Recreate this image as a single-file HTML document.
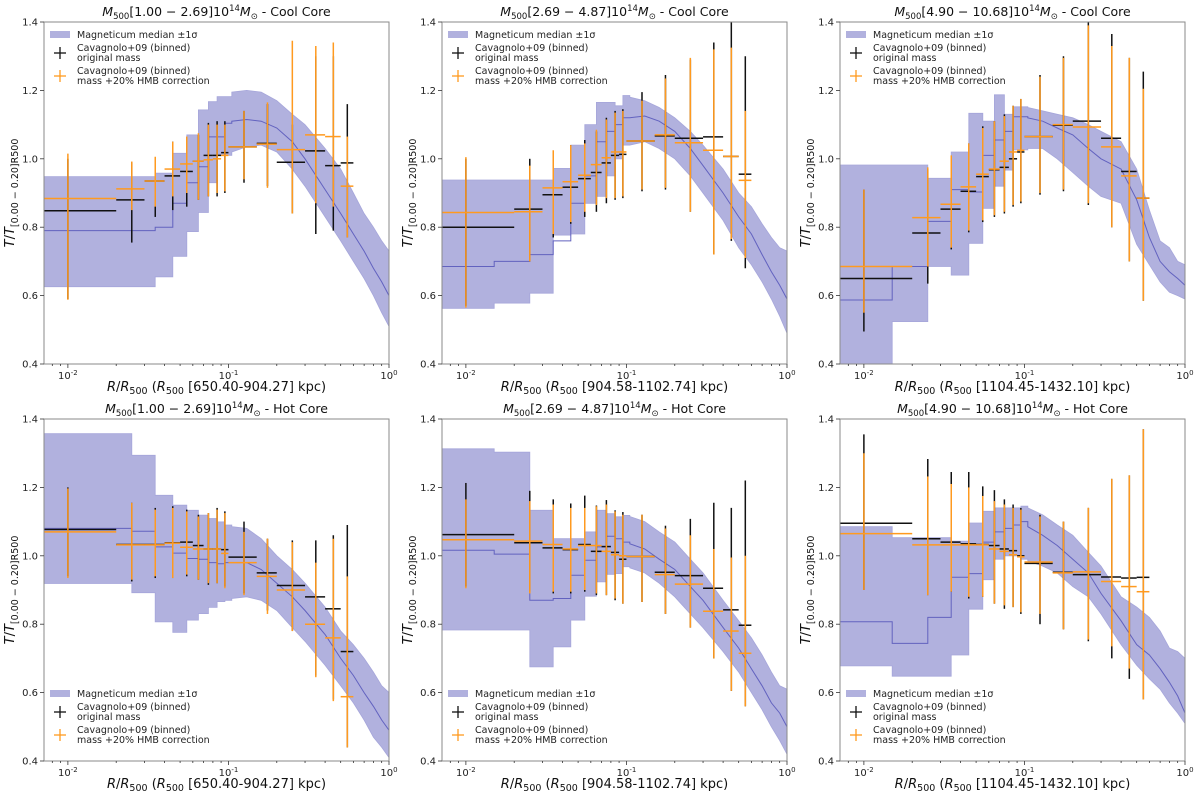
<!DOCTYPE html>
<html><head><meta charset="utf-8"><style>
body{margin:0;background:#fff}
svg{display:block;font-family:"DejaVu Sans","Liberation Sans",sans-serif}
</style></head><body>
<svg id="fig" width="1200" height="800" viewBox="0 0 1200 800" xmlns="http://www.w3.org/2000/svg"></svg>
<script>
// ---- shared bin definitions ----
const binLo=[0.0071,0.02,0.03,0.04,0.05,0.06,0.07,0.08,0.09,0.10,0.15,0.20,0.30,0.40,0.50];
const binHi=[0.02,0.03,0.04,0.05,0.06,0.07,0.08,0.09,0.10,0.15,0.20,0.30,0.40,0.50,0.60];
const binMid=[0.01,0.025,0.035,0.045,0.055,0.065,0.075,0.085,0.095,0.125,0.175,0.25,0.35,0.45,0.55];
// band grid: first 10 entries are step segments [x_i,x_{i+1}], rest are points joined linearly
const bandX=[0.0071,0.015,0.025,0.035,0.045,0.055,0.065,0.075,0.085,0.095,0.105,0.13,0.16,0.2,0.25,0.3,0.4,0.5,0.6,0.7,0.8,0.9,1.0];
const yTicks=[0.4,0.6,0.8,1.0,1.2,1.4];
const titles=["1.00 − 2.69","2.69 − 4.87","4.90 − 10.68","1.00 − 2.69","2.69 − 4.87","4.90 − 10.68"];
const cores=["Cool Core","Cool Core","Cool Core","Hot Core","Hot Core","Hot Core"];
const r500=["650.40-904.27","904.58-1102.74","1104.45-1432.10","650.40-904.27","904.58-1102.74","1104.45-1432.10"];

// ---- panel 1 ----
const p1Lo=[.626,.626,.626,.655,.715,.787,.843,.93,1.01,1.01,1.02,1.035,1.04,1.02,.97,.92,.83,.76,.70,.65,.60,.55,.51];
const p1Med=[.79,.79,.79,.80,.87,.93,.977,1.064,1.064,1.104,1.11,1.115,1.11,1.09,1.05,1.0,.91,.84,.78,.73,.68,.64,.60];
const p1Hi=[.948,.948,.948,.958,1.016,1.07,1.143,1.167,1.182,1.182,1.195,1.2,1.195,1.17,1.13,1.1,1.03,.97,.90,.84,.80,.76,.73];
const p1BY=[.848,.88,.935,.95,.963,.993,1.01,1.01,1.018,1.035,1.045,.99,1.023,.98,.988];
const p1BLo=[.59,.755,.83,.85,.86,.88,.89,.89,.90,.93,.92,.84,.78,.79,.77];
const p1BHi=[1.0,.99,1.0,1.05,1.06,1.07,1.105,1.11,1.11,1.14,1.16,1.1,1.3,1.3,1.16];
const p1OY=[.884,.912,.935,.97,.985,.993,.997,1.0,1.01,1.035,1.043,1.027,1.07,1.065,.92];
const p1OLo=[.588,.85,.86,.89,.90,.88,.89,.90,.905,.94,.915,.84,.87,.86,.77];
const p1OHi=[1.015,.992,1.006,1.05,1.065,1.075,1.1,1.1,1.1,1.14,1.165,1.345,1.33,1.34,1.065];
// ---- panel 2 ----
const p2Lo=[.563,.578,.607,.777,.78,.87,.89,.95,1.0,1.04,1.04,1.05,1.03,1.0,.95,.90,.82,.74,.69,.64,.59,.54,.49];
const p2Med=[.685,.70,.72,.76,.87,.95,1.05,1.08,1.10,1.12,1.12,1.125,1.11,1.08,1.03,.98,.90,.83,.78,.72,.67,.63,.59];
const p2Hi=[.938,.938,.938,.972,1.04,1.10,1.165,1.165,1.155,1.185,1.18,1.17,1.15,1.12,1.08,1.04,.97,.90,.86,.81,.77,.74,.73];
const p2BY=[.80,.853,.895,.917,.942,.96,.988,1.01,1.013,1.052,1.067,1.06,1.064,1.007,.955];
const p2BLo=[.57,.70,.77,.81,.83,.845,.87,.88,.885,.905,.91,.845,.72,.76,.68];
const p2BHi=[1.0,1.0,1.02,1.04,1.055,1.08,1.12,1.14,1.145,1.195,1.245,1.29,1.34,1.4,1.3];
const p2OY=[.843,.845,.915,.933,.952,.983,1.003,1.02,1.02,1.052,1.07,1.047,1.025,1.007,.937];
const p2OLo=[.565,.70,.78,.815,.845,.865,.885,.885,.89,.91,.915,.845,.72,.765,.71];
const p2OHi=[1.005,.98,1.025,1.04,1.045,1.085,1.115,1.135,1.14,1.17,1.235,1.295,1.32,1.325,1.14];
// ---- panel 3 ----
const p3Lo=[.35,.524,.685,.66,.753,.855,.92,.967,1.026,1.026,1.03,1.03,1.0,.96,.92,.89,.87,.75,.69,.64,.61,.60,.59];
const p3Med=[.587,.685,.817,.91,.903,1.01,1.055,1.08,1.123,1.123,1.12,1.11,1.09,1.07,1.03,1.0,.97,.88,.77,.70,.67,.65,.63];
const p3Hi=[.982,.982,.943,1.02,1.133,1.11,1.187,1.13,1.152,1.152,1.15,1.14,1.13,1.12,1.10,1.08,1.05,.97,.85,.76,.74,.70,.69];
const p3BY=[.65,.783,.853,.905,.948,.968,.975,1.0,1.02,1.065,1.098,1.11,1.06,.963,.885];
const p3BLo=[.495,.635,.735,.785,.815,.83,.84,.86,.87,.895,.905,.865,.80,.70,.585];
const p3BHi=[.91,.97,1.0,1.045,1.095,1.11,1.13,1.155,1.175,1.245,1.3,1.4,1.365,1.295,1.255];
const p3OY=[.685,.828,.867,.918,.955,.97,.993,1.02,1.025,1.065,1.1,1.093,1.035,.95,.885];
const p3OLo=[.55,.685,.74,.79,.82,.835,.845,.865,.875,.90,.91,.87,.80,.70,.585];
const p3OHi=[.91,.975,1.01,1.045,1.09,1.11,1.125,1.155,1.175,1.24,1.295,1.39,1.33,1.295,1.205];
// ---- panel 4 ----
const p4Lo=[.919,.919,.892,.807,.776,.812,.831,.849,.866,.87,.875,.88,.87,.84,.79,.75,.68,.62,.57,.52,.47,.44,.41];
const p4Med=[1.08,1.08,1.072,1.026,1.008,.992,.99,.98,.977,.98,.98,.98,.96,.92,.88,.84,.77,.70,.65,.60,.56,.52,.49];
const p4Hi=[1.357,1.357,1.294,1.177,1.148,1.133,1.119,1.109,1.099,1.09,1.085,1.08,1.05,1.0,.96,.92,.85,.78,.74,.70,.66,.62,.60];
const p4BY=[1.077,1.033,1.033,1.038,1.04,1.03,1.02,1.02,1.018,.996,.95,.913,.88,.845,.72];
const p4BLo=[.94,.925,.935,.935,.94,.93,.915,.92,.91,.89,.84,.78,.65,.58,.44];
const p4BHi=[1.2,1.155,1.14,1.145,1.135,1.12,1.125,1.14,1.13,1.10,1.05,1.045,1.045,1.06,1.09];
const p4OY=[1.07,1.032,1.032,1.037,1.025,1.02,1.02,1.02,1.007,.98,.94,.90,.80,.76,.588];
const p4OLo=[.935,.93,.94,.935,.945,.93,.92,.92,.905,.885,.83,.78,.645,.575,.44];
const p4OHi=[1.197,1.155,1.135,1.14,1.13,1.115,1.125,1.135,1.125,1.07,1.05,1.04,.98,1.05,.94];
// ---- panel 5 ----
const p5Lo=[.783,.783,.675,.734,.812,.882,.924,.946,.948,.968,.965,.95,.92,.88,.83,.79,.72,.66,.60,.55,.50,.46,.42];
const p5Med=[1.016,1.005,.87,.875,.943,.987,1.026,1.057,1.05,1.04,1.035,1.02,.99,.96,.91,.87,.79,.73,.67,.62,.57,.54,.50];
const p5Hi=[1.313,1.303,1.133,1.05,1.05,1.07,1.133,1.123,1.114,1.118,1.115,1.10,1.07,1.04,.99,.95,.87,.81,.76,.71,.66,.62,.61];
const p5BY=[1.062,1.038,1.023,1.018,1.033,1.013,1.027,1.01,.99,.998,.952,.942,.905,.842,.797];
const p5BLo=[.91,.895,.89,.89,.895,.885,.885,.87,.86,.865,.83,.79,.70,.605,.56];
const p5BHi=[1.213,1.19,1.165,1.153,1.176,1.147,1.163,1.133,1.128,1.12,1.088,1.108,1.155,1.14,1.22];
const p5OY=[1.047,1.043,1.033,1.02,1.03,1.03,1.013,1.003,1.0,.998,.945,.917,.838,.78,.715];
const p5OLo=[.905,.89,.895,.895,.90,.89,.885,.875,.86,.865,.83,.79,.70,.605,.56];
const p5OHi=[1.165,1.16,1.15,1.14,1.14,1.145,1.15,1.13,1.12,1.12,1.08,1.06,1.02,.995,1.0];
// ---- panel 6 ----
const p6Lo=[.678,.648,.648,.71,.844,.93,.99,1.0,1.0,.99,.985,.97,.95,.91,.88,.83,.74,.68,.64,.61,.57,.54,.51];
const p6Med=[.807,.744,.82,.937,.948,1.04,1.07,1.08,1.09,1.10,1.085,1.06,1.03,.99,.95,.89,.81,.74,.71,.67,.63,.59,.54];
const p6Hi=[1.085,1.053,1.053,1.043,1.096,1.13,1.14,1.14,1.14,1.145,1.14,1.12,1.09,1.06,1.01,.97,.88,.85,.82,.78,.73,.72,.70];
const p6BY=[1.095,1.05,1.04,1.035,1.033,1.03,1.02,1.015,1.0,.978,.952,.945,.938,.935,.937];
const p6BLo=[.90,.885,.895,.875,.88,.86,.845,.85,.83,.80,.785,.75,.70,.64,.58];
const p6BHi=[1.355,1.283,1.245,1.245,1.203,1.192,1.165,1.15,1.14,1.12,1.10,1.14,1.225,1.235,1.37];
const p6OY=[1.065,1.032,1.032,1.032,1.032,1.02,1.013,1.003,.997,.982,.95,.953,.925,.91,.895];
const p6OLo=[.90,.885,.895,.88,.88,.86,.855,.85,.835,.83,.785,.755,.735,.67,.58];
const p6OHi=[1.30,1.232,1.21,1.20,1.175,1.16,1.15,1.14,1.135,1.115,1.10,1.14,1.225,1.235,1.37];

const panels=[
 {lo:p1Lo,med:p1Med,hi:p1Hi,by:p1BY,bl:p1BLo,bh:p1BHi,oy:p1OY,ol:p1OLo,oh:p1OHi},
 {lo:p2Lo,med:p2Med,hi:p2Hi,by:p2BY,bl:p2BLo,bh:p2BHi,oy:p2OY,ol:p2OLo,oh:p2OHi},
 {lo:p3Lo,med:p3Med,hi:p3Hi,by:p3BY,bl:p3BLo,bh:p3BHi,oy:p3OY,ol:p3OLo,oh:p3OHi},
 {lo:p4Lo,med:p4Med,hi:p4Hi,by:p4BY,bl:p4BLo,bh:p4BHi,oy:p4OY,ol:p4OLo,oh:p4OHi},
 {lo:p5Lo,med:p5Med,hi:p5Hi,by:p5BY,bl:p5BLo,bh:p5BHi,oy:p5OY,ol:p5OLo,oh:p5OHi},
 {lo:p6Lo,med:p6Med,hi:p6Hi,by:p6BY,bl:p6BLo,bh:p6BHi,oy:p6OY,ol:p6OLo,oh:p6OHi}
];

const NS="http://www.w3.org/2000/svg";
const svg=document.getElementById('fig');
function mk(tag,attrs,parent){const e=document.createElementNS(NS,tag);for(const k in attrs)e.setAttribute(k,attrs[k]);(parent||svg).appendChild(e);return e;}
const XMIN=Math.log10(0.0071),XMAX=0;
const W=345,H=342;
const lefts=[44,442,840],tops=[22,419];

panels.forEach((p,idx)=>{
  const L=lefts[idx%3],T=tops[Math.floor(idx/3)];
  const xs=v=>L+(Math.log10(v)-XMIN)/(XMAX-XMIN)*W;
  const ys=v=>T+(1.4-v)/1.0*H;
  const g=mk('g',{});
  
  
  const cid='clip'+idx;
  const cp=mk('clipPath',{id:cid},g);mk('rect',{x:L,y:T,width:W,height:H},cp);
  const pg=mk('g',{'clip-path':'url(#'+cid+')'},g);
  function pts(arr){
    const out=[];
    for(let i=0;i<10;i++){out.push([xs(bandX[i]),ys(arr[i])]);out.push([xs(bandX[i+1]),ys(arr[i])]);}
    for(let i=10;i<bandX.length;i++)out.push([xs(bandX[i]),ys(arr[i])]);
    return out;
  }
  const up=pts(p.hi),dn=pts(p.lo).reverse();
  const band=mk('path',{d:'M'+up.concat(dn).map(q=>q[0].toFixed(1)+','+q[1].toFixed(1)).join('L')+'Z',fill:'#b1b1de',stroke:'#a6a6da','stroke-width':0.8},pg);
  
  
  const med=mk('polyline',{points:pts(p.med).map(q=>q[0].toFixed(1)+','+q[1].toFixed(1)).join(' '),fill:'none',stroke:'#6262bf','stroke-width':1},pg);
  
  
  function errs(Y,LO,HI,col,name){
    for(let i=0;i<binMid.length;i++){
      const eg=mk('g',{stroke:col,'stroke-width':1.5},pg);
      
      
      const x=xs(binMid[i]);
      mk('line',{x1:x,x2:x,y1:ys(LO[i]),y2:ys(HI[i])},eg);
      mk('line',{x1:xs(binLo[i]),x2:xs(binHi[i]),y1:ys(Y[i]),y2:ys(Y[i])},eg);
    }
  }
  errs(p.by,p.bl,p.bh,'#111','cavagnolo-original');
  errs(p.oy,p.ol,p.oh,'#ff9a1f','cavagnolo-hmb');
  const fr=mk('rect',{x:L,y:T,width:W,height:H,fill:'none',stroke:'#8a8a8a','stroke-width':1},g);
  
  
  yTicks.forEach(v=>{
    const y=ys(v);
    mk('line',{x1:L-4,x2:L,y1:y,y2:y,stroke:'#333','stroke-width':0.8},g);
    const t=mk('text',{x:L-6,y:y+3.5,'text-anchor':'end','font-size':10,fill:'#222'},g);
    t.textContent=v.toFixed(1);
    
    
  });
  for(let d=-3;d<=0;d++){
    for(let m=1;m<10;m++){
      const v=m*Math.pow(10,d);
      if(v<0.0071||v>1.0001)continue;
      const x=xs(v);
      mk('line',{x1:x,x2:x,y1:T+H,y2:T+H+(m===1?4:2),stroke:'#333','stroke-width':0.8},g);
      if(m===1){
        const t=mk('text',{x:x,y:T+H+15,'text-anchor':'middle','font-size':10,fill:'#222'},g);
        
        
        t.textContent='10';
        const s=mk('tspan',{dy:-4,'font-size':7},t);s.textContent=String(d);
      }
    }
  }
  const tt=mk('text',{x:L+W/2,y:T-6,'text-anchor':'middle','font-size':12.5,fill:'#111'},g);
  
  
  tt.innerHTML='<tspan font-style="italic">M</tspan><tspan font-size="8.5" dy="3">500</tspan><tspan dy="-3">['+titles[idx]+']10</tspan><tspan font-size="8.5" dy="-5">14</tspan><tspan dy="5" font-style="italic">M</tspan><tspan font-size="8.5" dy="3">⊙</tspan><tspan dy="-3"> - '+cores[idx]+'</tspan>';
  const xl=mk('text',{x:L+W/2,y:T+H+27,'text-anchor':'middle','font-size':13,fill:'#111'},g);
  
  
  xl.innerHTML='<tspan font-style="italic">R</tspan>/<tspan font-style="italic">R</tspan><tspan font-size="9.5" dy="3">500</tspan><tspan dy="-3"> (</tspan><tspan font-style="italic">R</tspan><tspan font-size="9.5" dy="3">500</tspan><tspan dy="-3"> ['+r500[idx]+'] kpc)</tspan>';
  const yl=mk('text',{x:0,y:0,'text-anchor':'middle','font-size':13,fill:'#111',transform:'translate('+(L-30)+','+(T+H/2)+') rotate(-90)'},g);
  
  
  yl.innerHTML='<tspan font-style="italic">T</tspan>/<tspan font-style="italic">T</tspan><tspan font-size="9.5" dy="4">[0.00 − 0.20]R500</tspan>';
  const ly=idx<3?T+9:T+H-71;
  const lg=mk('g',{},g);
  
  
  mk('rect',{x:L+6,y:ly,width:20,height:7,fill:'#b1b1de'},lg);
  const l1=mk('text',{x:L+33,y:ly+7,'font-size':9.5,fill:'#222'},lg);
  l1.textContent='Magneticum median ±1σ';
  
  
  const crosses=[['#111',ly+22,'original mass'],['#ff9a1f',ly+45,'mass +20% HMB correction']];
  crosses.forEach((c,k)=>{
    mk('line',{x1:L+10,x2:L+22,y1:c[1],y2:c[1],stroke:c[0],'stroke-width':1.3},lg);
    mk('line',{x1:L+16,x2:L+16,y1:c[1]-6,y2:c[1]+6,stroke:c[0],'stroke-width':1.3},lg);
    const a=mk('text',{x:L+33,y:c[1]-2,'font-size':9.5,fill:'#222'},lg);
    a.textContent='Cavagnolo+09 (binned)';
    
    
    const b=mk('text',{x:L+33,y:c[1]+8,'font-size':9.5,fill:'#222'},lg);
    b.textContent=c[2];
  });
});
</script>
</body></html>
